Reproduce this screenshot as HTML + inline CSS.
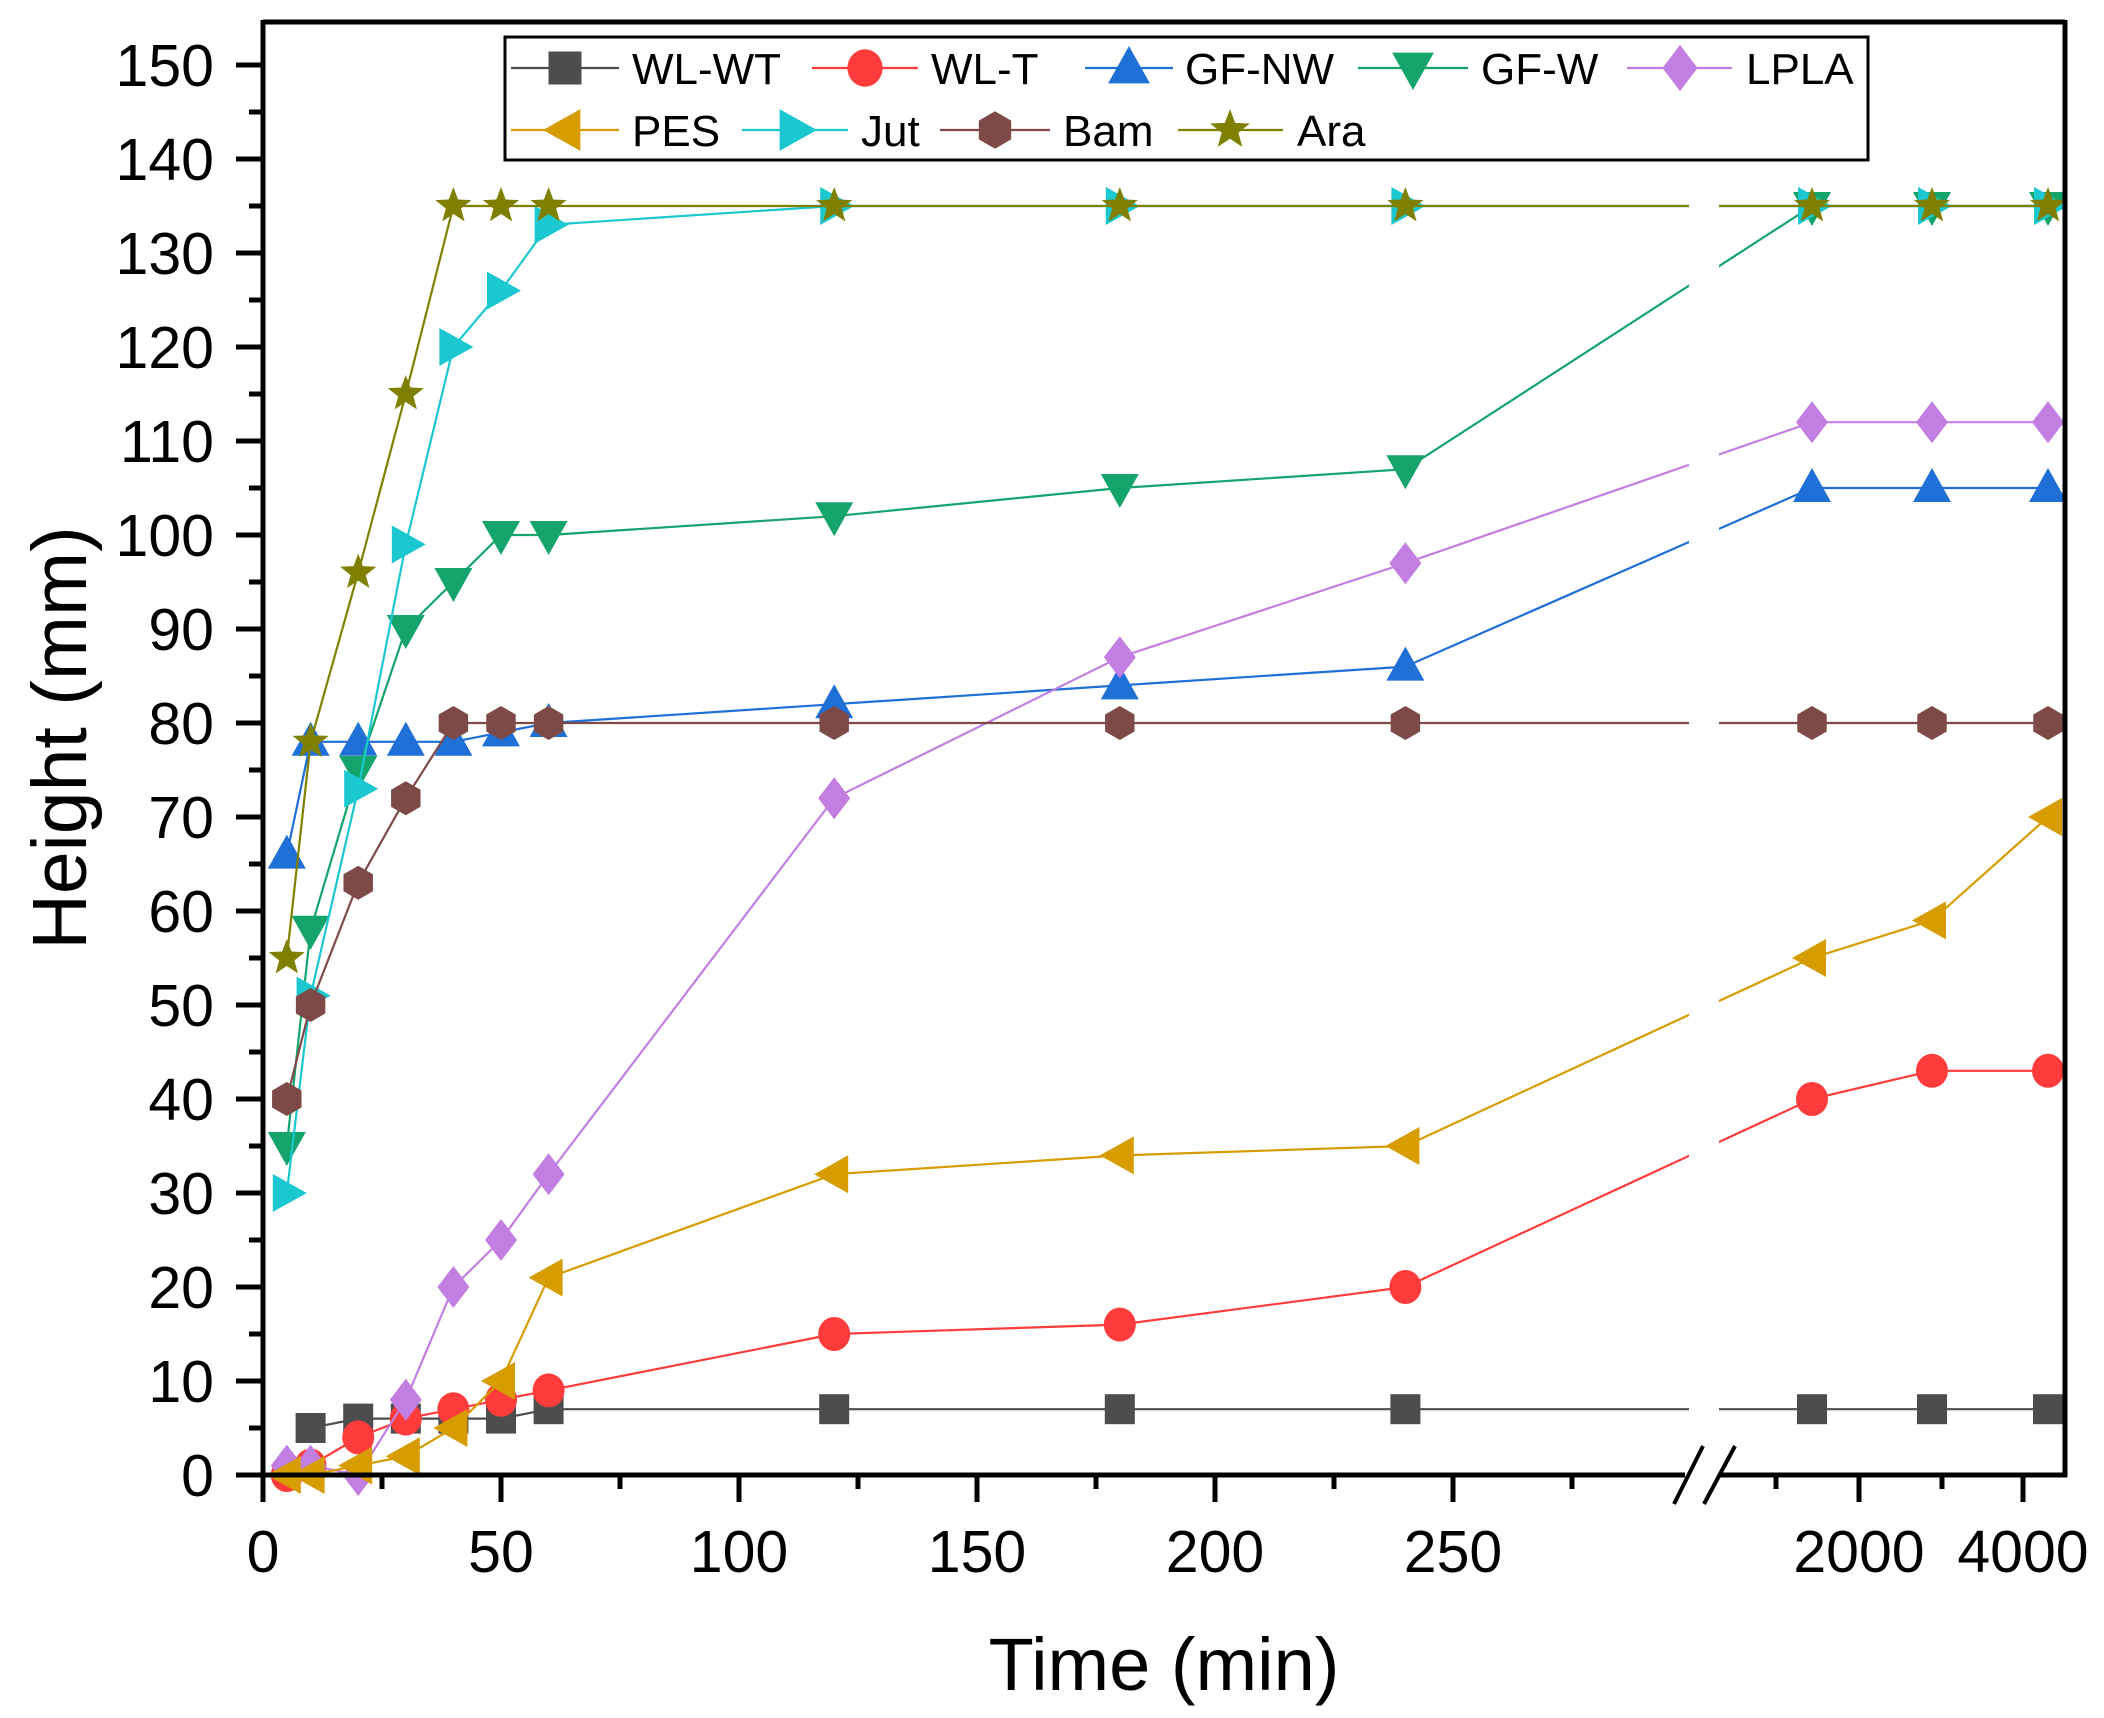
<!DOCTYPE html>
<html><head><meta charset="utf-8"><style>
html,body{margin:0;padding:0;background:#fff;}
svg{display:block;}
text{font-family:"Liberation Sans",Arial,sans-serif;fill:#000;}
</style></head><body>
<svg id="s" width="2104" height="1718" viewBox="0 0 2104 1718" xmlns="http://www.w3.org/2000/svg">
<rect width="2104" height="1718" fill="#fff"/>
<g id="data"></g>
<rect x="1689" y="26" width="30" height="1446" fill="#fff"/>
<!-- frame -->
<g stroke="#000" stroke-width="5" fill="none">
<line x1="263" y1="22" x2="2065" y2="22"/>
<line x1="263" y1="20" x2="263" y2="1477"/>
<line x1="2065" y1="20" x2="2065" y2="1477"/>
<line x1="261" y1="1475" x2="1685" y2="1475"/>
<line x1="1720" y1="1475" x2="2067" y2="1475"/>
</g>
<g stroke="#000" stroke-width="4">
<line x1="1674" y1="1504" x2="1703" y2="1446"/>
<line x1="1704" y1="1504" x2="1735" y2="1446"/>
</g>
<g id="ticks" stroke="#000" stroke-width="5"></g>
<g font-size="59" text-anchor="end" id="ylab">
<text x="214" y="1496">0</text><text x="214" y="1402">10</text><text x="214" y="1308">20</text><text x="214" y="1214">30</text><text x="214" y="1120">40</text><text x="214" y="1026">50</text><text x="214" y="932">60</text><text x="214" y="838">70</text><text x="214" y="744">80</text><text x="214" y="650">90</text><text x="214" y="556">100</text><text x="214" y="462">110</text><text x="214" y="368">120</text><text x="214" y="274">130</text><text x="214" y="180">140</text><text x="214" y="86">150</text>
</g>
<g font-size="59" text-anchor="middle">
<text x="263" y="1572">0</text><text x="501" y="1572">50</text><text x="739" y="1572">100</text><text x="977" y="1572">150</text><text x="1215" y="1572">200</text><text x="1453" y="1572">250</text><text x="1859" y="1572">2000</text><text x="2023" y="1572">4000</text>
</g>
<text x="1164" y="1690" font-size="74" text-anchor="middle">Time (min)</text>
<text transform="translate(86,738) rotate(-90)" font-size="77" text-anchor="middle">Height (mm)</text>
<!-- legend -->
<rect x="505" y="37" width="1363" height="123" fill="#fff" stroke="#000" stroke-width="3"/>
<g id="leg"></g>
<g font-size="44">
<text x="632" y="84">WL-WT</text><text x="931" y="84">WL-T</text><text x="1185" y="84">GF-NW</text><text x="1481" y="84">GF-W</text><text x="1746" y="84">LPLA</text>
<text x="632" y="146">PES</text><text x="861" y="146">Jut</text><text x="1063" y="146">Bam</text><text x="1297" y="146">Ara</text>
</g>
</svg>
<script>
var NS="http://www.w3.org/2000/svg";
function el(p,n,a){var e=document.createElementNS(NS,n);for(var k in a)e.setAttribute(k,a[k]);p.appendChild(e);return e;}
var tk=document.getElementById('ticks');
function Y(v){return 1475-9.4*v;}
for(var v=0;v<=150;v+=5){var L=(v%10==0)?27:14;el(tk,'line',{x1:263-L,y1:Y(v),x2:263,y2:Y(v)});}
[0,50,100,150,200,250].forEach(function(t){var x=263+4.76*t;el(tk,'line',{x1:x,y1:1475,x2:x,y2:1502});});
[25,75,125,175,225,275].forEach(function(t){var x=263+4.76*t;el(tk,'line',{x1:x,y1:1475,x2:x,y2:1489});});
[1859,2023].forEach(function(x){el(tk,'line',{x1:x,y1:1475,x2:x,y2:1502});});
[1776,1942].forEach(function(x){el(tk,'line',{x1:x,y1:1475,x2:x,y2:1489});});
var T=[5,10,20,30,40,50,60,120,180,240];
function X(i){return i<10?263+4.76*T[i]:[1812,1932,2048][i-10];}
var S=[
['#4d4d4d','sq',[null,5,6,6,6,6,7,7,7,7,7,7,7]],
['#ff3b3b','ci',[0,1,4,6,7,8,9,15,16,20,40,43,43]],
['#1e6fd6','tu',[66,78,78,78,78,79,80,82,84,86,105,105,105]],
['#14a46c','td',[35,58,75,90,95,100,100,102,105,107,135,135,135]],
['#c27ee0','di',[1,1,0,8,20,25,32,72,87,97,112,112,112]],
['#d69c00','tl',[0,0,1,2,5,10,21,32,34,35,55,59,70]],
['#1cc8d0','tr',[30,51,73,99,120,126,133,135,135,135,135,135,135]],
['#7d4a47','hx',[40,50,63,72,80,80,80,80,80,80,80,80,80]],
['#808000','st',[55,78,96,115,135,135,135,135,135,135,135,135,135]]
];
function mk(g,type,x,y,c,s){s=s||1;var r=17*s,a;
 if(type=='sq')el(g,'rect',{x:x-15*s,y:y-15*s,width:30*s,height:30*s,fill:c});
 else if(type=='ci')el(g,'ellipse',{cx:x,cy:y,rx:16*s,ry:17*s,fill:c});
 else if(type=='hx'){a=[];for(var k=0;k<6;k++){var t=Math.PI/6+k*Math.PI/3;a.push((x+r*Math.cos(t))+','+(y+r*Math.sin(t)));}el(g,'polygon',{points:a.join(' '),fill:c});}
 else if(type=='tu')el(g,'polygon',{points:(x)+','+(y-20*s)+' '+(x+19*s)+','+(y+14*s)+' '+(x-19*s)+','+(y+14*s),fill:c});
 else if(type=='td')el(g,'polygon',{points:(x)+','+(y+20*s)+' '+(x+19*s)+','+(y-14*s)+' '+(x-19*s)+','+(y-14*s),fill:c});
 else if(type=='tl')el(g,'polygon',{points:(x-20*s)+','+(y)+' '+(x+14*s)+','+(y-19*s)+' '+(x+14*s)+','+(y+19*s),fill:c});
 else if(type=='tr')el(g,'polygon',{points:(x+20*s)+','+(y)+' '+(x-14*s)+','+(y-19*s)+' '+(x-14*s)+','+(y+19*s),fill:c});
 else if(type=='di')el(g,'polygon',{points:x+','+(y-21*s)+' '+(x+16*s)+','+y+' '+x+','+(y+21*s)+' '+(x-16*s)+','+y,fill:c});
 else if(type=='st'){a=[];for(var k=0;k<10;k++){var rr=(k%2?8:19)*s,t=-Math.PI/2+k*Math.PI/5;a.push((x+rr*Math.cos(t))+','+(y+rr*Math.sin(t)));}el(g,'polygon',{points:a.join(' '),fill:c});}
}
var dg=document.getElementById('data');
S.forEach(function(s){var g=el(dg,'g',{});var pts=[];s[2].forEach(function(v,i){if(v!==null)pts.push(X(i)+','+Y(v));});
 el(g,'polyline',{points:pts.join(' '),fill:'none',stroke:s[0],'stroke-width':2.2});
 s[2].forEach(function(v,i){if(v!==null)mk(g,s[1],X(i),Y(v),s[0]);});});
var lg=document.getElementById('leg');
var LP=[[511,619,565,68],[812,918,865,68],[1085,1173,1129,68],[1358,1468,1413,68],[1627,1732,1680,68],[511,619,565,130],[742,848,795,130],[940,1050,995,130],[1178,1283,1230,130]];
LP.forEach(function(p,i){el(lg,'line',{x1:p[0],y1:p[3],x2:p[1],y2:p[3],stroke:S[i][0],'stroke-width':2.2});mk(lg,S[i][1],p[2],p[3],S[i][0],1.1);});
</script>
</body></html>
